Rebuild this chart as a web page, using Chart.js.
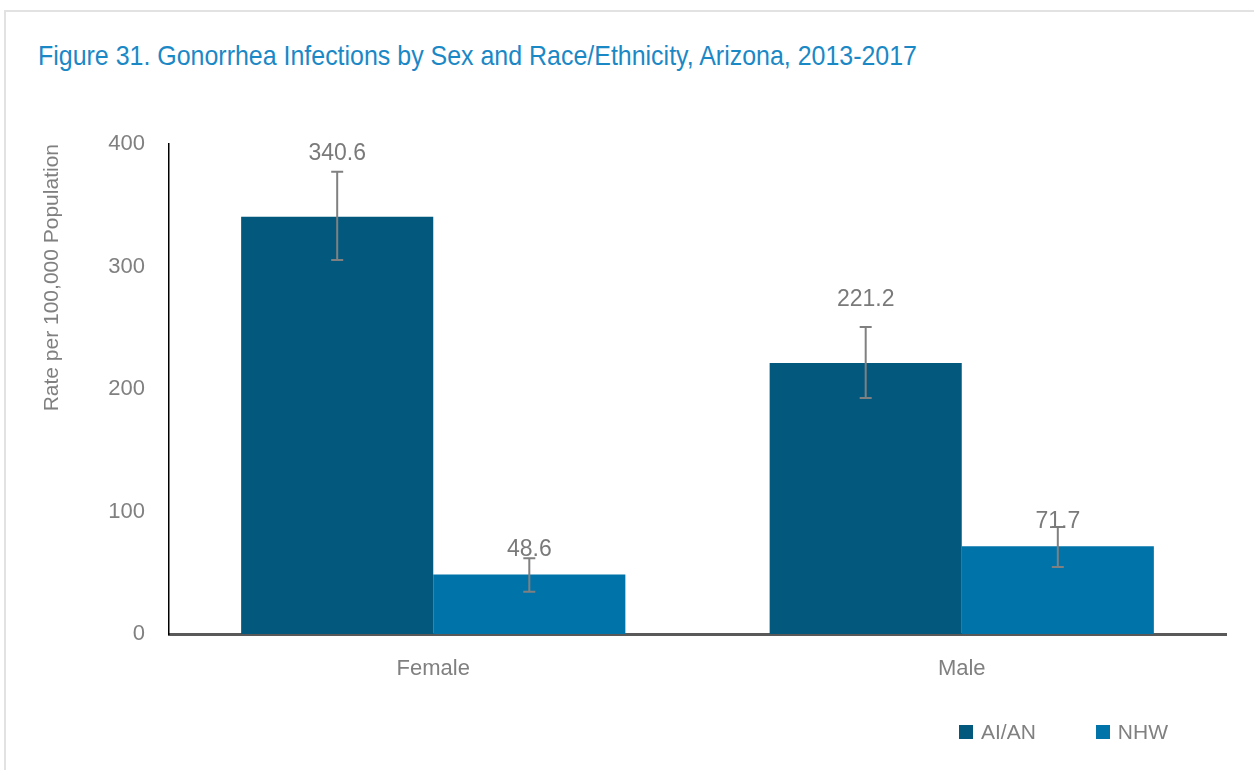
<!DOCTYPE html>
<html lang="en">
  <head>
    <meta charset="UTF-8" />
    <title>Figure 31 - Gonorrhea Infections by Sex and Race/Ethnicity</title>
    <script src="https://cdn.jsdelivr.net/npm/chart.js"></script>
    <style>
      body {
        margin: 0;
        width: 1254px;
        height: 770px;
        overflow: hidden;
        position: relative;
        background: #fff;
        font-family: "Liberation Sans", Arial, sans-serif;
      }

      .frame {
        position: absolute;
        left: 4px;
        top: 10px;
        width: 1300px;
        height: 800px;
        border: 2px solid #e2e2e2;
      }

      .fig-title {
        position: absolute;
        left: 38px;
        top: 39px;
        font-size: 28px;
        line-height: 34px;
        color: #1b88c6;
        white-space: nowrap;
        transform-origin: left center;
      }

      canvas {
        position: absolute;
        left: 0;
        top: 0;
      }

      #legend {
        position: absolute;
        left: 959px;
        top: 720px;
        display: flex;
        gap: 60px;
        font-size: 21px;
        color: #808080;
      }

      #legend .item {
        display: flex;
        align-items: center;
        gap: 8px;
      }

      #legend .box {
        width: 14px;
        height: 14px;
      }
    </style>
  </head>
  <body>
    <div class="frame"></div>
    <div class="fig-title" id="title">Figure 31. Gonorrhea Infections by Sex and Race/Ethnicity, Arizona, 2013-2017</div>
    <canvas id="chart" width="1254" height="770"></canvas>
    <div id="legend"></div>

    <script>
      const categories = ["Female", "Male"];
      const seriesNames = ["AI/AN", "NHW"];

      const aianRates = [340.6, 221.2];
      const aianLow = [305.3, 192.7];
      const aianHigh = [377.4, 250.6];

      const nhwRates = [48.6, 71.7];
      const nhwLow = [34.5, 54.7];
      const nhwHigh = [61.8, 87.3];

      const yTicks = [0, 100, 200, 300, 400];

      const grey = "#808080";
      const fontFamily = "'Liberation Sans', Arial, sans-serif";

      // squeeze the title to the narrow width of the original
      const titleEl = document.getElementById("title");
      titleEl.style.transform = "scaleX(" + 879 / titleEl.getBoundingClientRect().width + ")";

      // error bars + value labels, drawn on top of the bars
      const errorBarPlugin = {
        id: "errorBars",
        afterDatasetsDraw(chart) {
          const { ctx, scales } = chart;
          const y = scales.y;
          chart.data.datasets.forEach((ds, di) => {
            const meta = chart.getDatasetMeta(di);
            meta.data.forEach((bar, i) => {
              const x = bar.x;
              const top = y.getPixelForValue(ds.errHigh[i]);
              const bottom = y.getPixelForValue(ds.errLow[i]);
              ctx.save();
              ctx.strokeStyle = grey;
              ctx.lineWidth = 2;
              ctx.beginPath();
              ctx.moveTo(x, top);
              ctx.lineTo(x, bottom);
              ctx.moveTo(x - 6, top);
              ctx.lineTo(x + 6, top);
              ctx.moveTo(x - 6, bottom);
              ctx.lineTo(x + 6, bottom);
              ctx.stroke();

              ctx.fillStyle = "#7a7a7a";
              ctx.font = "23px " + fontFamily;
              ctx.textAlign = "center";
              ctx.textBaseline = "middle";
              ctx.fillText(ds.data[i].toFixed(1), x, bar.y - ds.labelOffset);
              ctx.restore();
            });
          });
        },
      };

      // legend built as html from the chart's own legend items
      const htmlLegendPlugin = {
        id: "htmlLegend",
        afterUpdate(chart) {
          const holder = document.getElementById("legend");
          holder.innerHTML = "";
          const items = chart.options.plugins.legend.labels.generateLabels(chart);
          items.forEach((item) => {
            const el = document.createElement("div");
            el.className = "item";
            const box = document.createElement("span");
            box.className = "box";
            box.style.background = item.fillStyle;
            const txt = document.createElement("span");
            txt.textContent = item.text;
            el.appendChild(box);
            el.appendChild(txt);
            holder.appendChild(el);
          });
        },
      };

      new Chart(document.getElementById("chart"), {
        type: "bar",
        data: {
          labels: categories,
          datasets: [
            {
              label: seriesNames[0],
              data: aianRates,
              errLow: aianLow,
              errHigh: aianHigh,
              labelOffset: 63,
              backgroundColor: "#03587d",
            },
            {
              label: seriesNames[1],
              data: nhwRates,
              errLow: nhwLow,
              errHigh: nhwHigh,
              labelOffset: 25,
              backgroundColor: "#0073a8",
            },
          ],
        },
        options: {
          responsive: false,
          animation: false,
          categoryPercentage: 0.727,
          barPercentage: 1,
          layout: {
            padding: { top: 144, left: 20, right: 28, bottom: 56 },
          },
          plugins: {
            tooltip: { enabled: false },
            legend: { display: false },
          },
          scales: {
            x: {
              afterFit(scale) {
                scale.height = 80;
              },
              grid: { display: false, drawTicks: false },
              border: { color: "#595959", width: 3 },
              ticks: {
                padding: 22,
                color: grey,
                font: { size: 22, family: fontFamily },
              },
            },
            y: {
              min: 0,
              max: 400,
              afterFit(scale) {
                scale.width = 149;
              },
              afterBuildTicks(scale) {
                scale.ticks = yTicks.map((v) => ({ value: v }));
              },
              grid: { display: false, drawTicks: false },
              border: { color: "#000", width: 1.5 },
              ticks: {
                padding: 24,
                color: grey,
                font: { size: 22, family: fontFamily },
              },
              title: {
                display: true,
                text: "Rate per 100,000 Population",
                align: "end",
                color: grey,
                padding: { top: 20, bottom: 0 },
                font: { size: 21, family: fontFamily },
              },
            },
          },
        },
        plugins: [errorBarPlugin, htmlLegendPlugin],
      });
    </script>
  </body>
</html>
